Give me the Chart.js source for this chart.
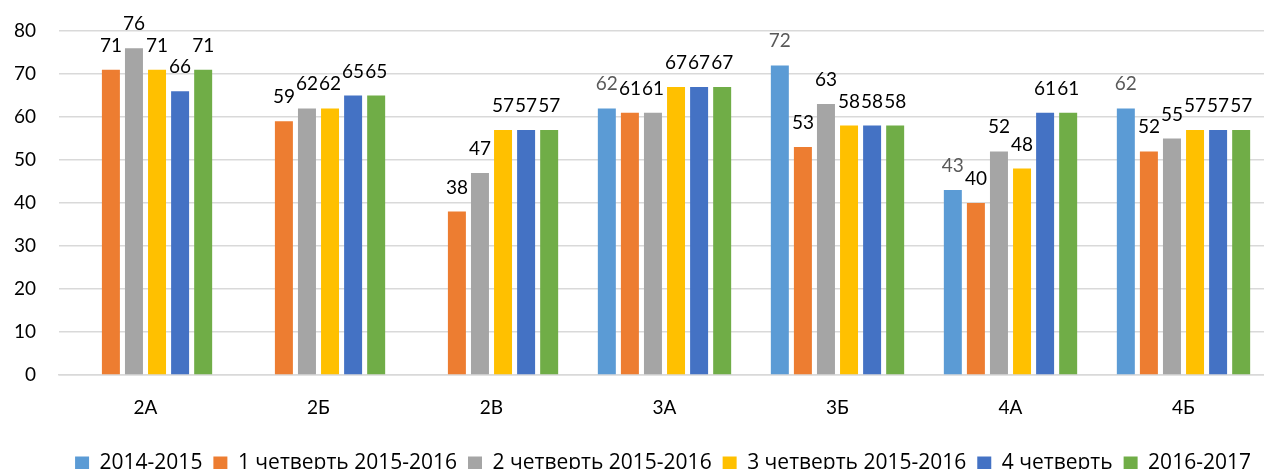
<!DOCTYPE html>
<html><head><meta charset="utf-8">
<script src="https://cdn.jsdelivr.net/npm/chart.js@4/dist/chart.umd.min.js"></script>
<style>html,body{margin:0;padding:0;background:#fff;overflow:hidden}#wrap{width:1272px;height:484px}</style>
</head><body><div id="wrap"><canvas id="c"></canvas></div>
<script>
const categories = ['2А','2Б','2В','3А','3Б','4А','4Б'];
const seriesNames = ['2014-2015','1 четверть 2015-2016','2 четверть 2015-2016','3 четверть 2015-2016','4 четверть','2016-2017'];
const s2014_2015 = [null, null, null, 62, 72, 43, 62];
const q1_2015_2016 = [71, 59, 38, 61, 53, 40, 52];
const q2_2015_2016 = [76, 62, 47, 61, 63, 52, 55];
const q3_2015_2016 = [71, 62, 57, 67, 58, 48, 57];
const q4 = [66, 65, 57, 67, 58, 61, 57];
const s2016_2017 = [71, 65, 57, 67, 58, 61, 57];
const yTicks = [0,10,20,30,40,50,60,70,80];

const colors = ['#5B9BD5','#ED7D31','#A5A5A5','#FFC000','#4472C4','#70AD47'];
const labelColors = ['#595959','#000','#000','#000','#000','#000'];
const allData = [s2014_2015,q1_2015_2016,q2_2015_2016,q3_2015_2016,q4,s2016_2017];
const FONT = 'Lato, "Open Sans", sans-serif';
const LFONT = '"Open Sans", Lato, sans-serif';

const labelPlugin = {
  id: 'barLabels',
  afterLayout(chart) {
    const lg = chart.legend;
    lg.left += 22; lg.right += 22;
  },
  afterDatasetsDraw(chart) {
    const ctx = chart.ctx;
    ctx.save();
    ctx.font = '19px ' + FONT;
    ctx.textAlign = 'center';
    ctx.textBaseline = 'alphabetic';
    chart.data.datasets.forEach((ds, i) => {
      const meta = chart.getDatasetMeta(i);
      meta.data.forEach((el, j) => {
        const v = ds.data[j];
        if (v === null || v === undefined) return;
        ctx.fillStyle = labelColors[i];
        ctx.fillText(String(v), el.x, el.y - 18);
      });
    });
    ctx.restore();
  }
};

new Chart(document.getElementById('c'), {
  type: 'bar',
  data: {
    labels: categories,
    datasets: allData.map((d, i) => ({
      label: seriesNames[i],
      data: d,
      backgroundColor: colors[i],
      borderWidth: 0,
      categoryPercentage: 0.8,
      barPercentage: 0.78
    }))
  },
  options: {
    responsive: true,
    maintainAspectRatio: false,
    animation: false,
    layout: { padding: { top: 31, right: 2, left: 12, bottom: 0 } },
    plugins: {
      legend: {
        position: 'bottom',
        labels: {
          font: { family: LFONT, size: 21 },
          color: '#000',
          boxWidth: 14,
          boxHeight: 14,
          padding: 11
        }
      },
      tooltip: { enabled: false }
    },
    scales: {
      x: {
        grid: { display: false },
        border: { display: true, color: '#D9D9D9', width: 1.5 },
        afterFit(scale) { scale.height = 67; },
        ticks: { font: { family: FONT, size: 19 }, color: '#000', padding: 13 }
      },
      y: {
        min: 0, max: 80,
        afterBuildTicks(scale) { scale.ticks = yTicks.map(v => ({ value: v })); },
        afterFit(scale) { scale.width = 47; scale.paddingTop = 0; scale.paddingBottom = 0; },
        grid: { color: '#D9D9D9', lineWidth: 1.5, drawTicks: false },
        border: { display: false },
        ticks: { font: { family: FONT, size: 19 }, color: '#000', padding: 23 }
      }
    }
  },
  plugins: [labelPlugin]
});
</script></body></html>
